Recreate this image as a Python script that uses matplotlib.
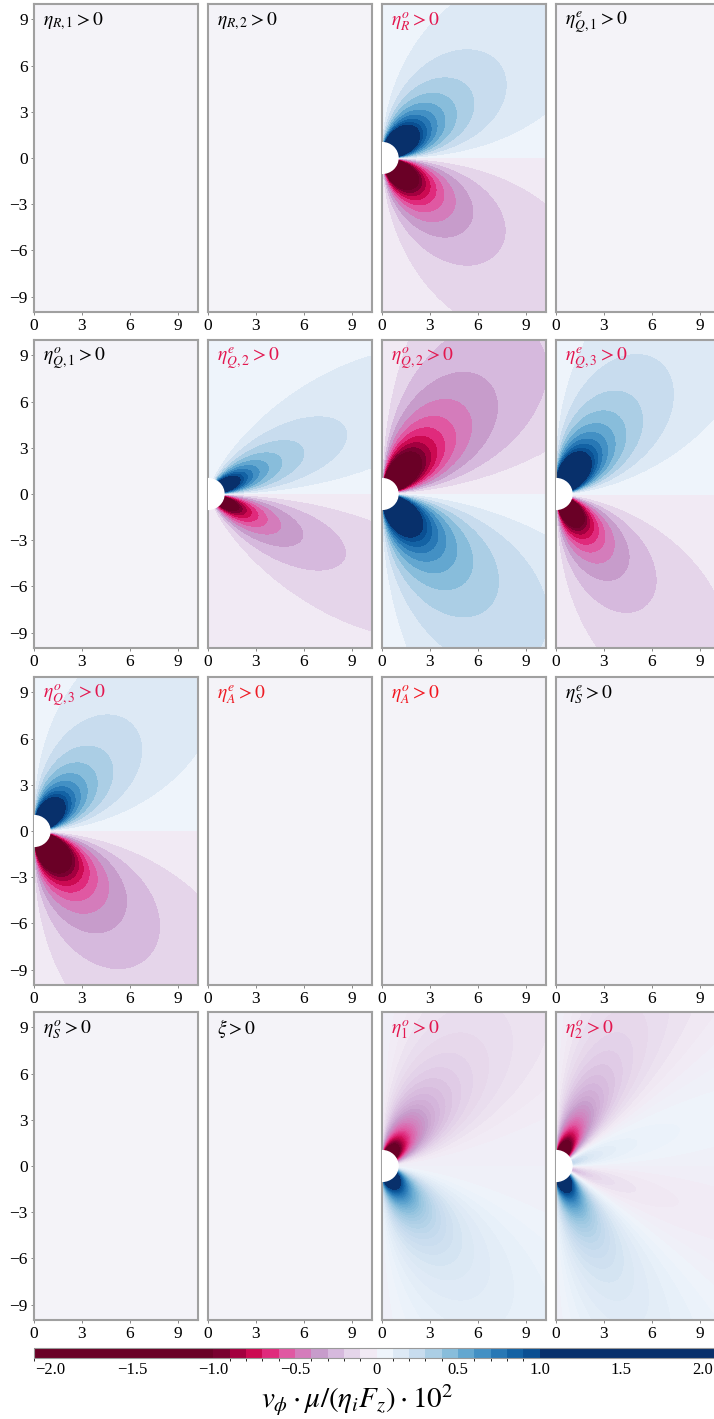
import numpy as np
import matplotlib
matplotlib.use("Agg")
import matplotlib.pyplot as plt
from matplotlib.colors import ListedColormap, BoundaryNorm, LinearSegmentedColormap
from matplotlib.patches import Circle
import matplotlib.colorbar as mcolorbar

plt.rcParams['font.family'] = ['Liberation Serif', 'DejaVu Serif']
plt.rcParams['mathtext.fontset'] = 'stix'
plt.rcParams['axes.unicode_minus'] = True

# panel titles, row by row
panel_labels = [r'$\eta_{R,1} > 0$', r'$\eta_{R,2} > 0$', r'$\eta^o_R > 0$', r'$\eta^e_{Q,1} > 0$',
                r'$\eta^o_{Q,1} > 0$', r'$\eta^e_{Q,2} > 0$', r'$\eta^o_{Q,2} > 0$', r'$\eta^e_{Q,3} > 0$',
                r'$\eta^o_{Q,3} > 0$', r'$\eta^e_A > 0$', r'$\eta^o_A > 0$', r'$\eta^e_S > 0$',
                r'$\eta^o_S > 0$', r'$\xi > 0$', r'$\eta^o_1 > 0$', r'$\eta^o_2 > 0$']
label_colors = ['k', 'k', '#e3174f', 'k',
                'k', '#e3174f', '#e3174f', '#e3174f',
                '#e3174f', '#ee1c25', '#f2161f', 'k',
                'k', 'k', '#e3174f', '#e3174f']

# flow model per panel (None = no flow), sign +1 means blue above the sphere
lobe_sign = [None, None, 1, None, None, 1, -1, 1, 1, None, None, None, None, None, -1, 1]
# main lobe ~ G(angle) / r^n
lobe_amp_up = [0, 0, 4.2, 0, 0, 2.4, 4.2, 4.2, 3.6, 0, 0, 0, 0, 0, 1.6, 1.4]
lobe_amp_down = [0, 0, 4.2, 0, 0, 2.4, 4.2, 3.6, 4.2, 0, 0, 0, 0, 0, 1.6, 1.4]
lobe_sin_exp = [0, 0, 1.0, 0, 0, 1.0, 1.3, 1.8, 1.4, 0, 0, 0, 0, 0, 2.0, 1.0]
lobe_cos_exp = [0, 0, 1.35, 0, 0, 4.0, 1.0, 1.0, 1.0, 0, 0, 0, 0, 0, 1.0, 1.0]
lobe_decay = [0, 0, 1.35, 0, 0, 1.1, 1.15, 1.3, 1.3, 0, 0, 0, 0, 0, 1.1, 1.0]
lobe_flip_deg = [None] * 15 + [33]
# extra part close to the sphere (above / below), faster decay
near_amp_up = [0, 0, 0, 0, 0, 0, 0, 1.5, 0, 0, 0, 0, 0, 0, 0.9, -2.0]
near_amp_down = [0, 0, 0, 0, 0, 0, 0, 0, 2.5, 0, 0, 0, 0, 0, 0.9, -2.0]
near_sin_exp = [0, 0, 1.0, 0, 0, 1.0, 1.5, 1.5, 1.5, 0, 0, 0, 0, 0, 1.5, 2.0]
near_cos_exp = [0, 0, 0.3, 0, 0, 0.3, 0.3, 0.3, 0.3, 0, 0, 0, 0, 0, 0.3, 0.3]
near_decay = [0, 0, 2.0, 0, 0, 2.0, 2.0, 2.0, 2.0, 0, 0, 0, 0, 0, 2.5, 2.5]
fine_levels = [False] * 14 + [True, True]

# colour bands, from -1.0..-0.9 up to 0.9..1.0
band_colors = ['#790030', '#a3003f', '#cc0a52', '#e02a7c', '#e058a2', '#d47cbb', '#c79ccb', '#d6b9dd', '#e5d5ea', '#f1eaf4',
               '#eef4fb', '#dde9f5', '#c8dcee', '#abcee5', '#88bddb', '#63a7d0', '#4390c4', '#2878b5', '#1362a4', '#0a4f92']
under_color = '#6a0026'
over_color = '#08306b'
levels = np.round(np.arange(-1.0, 1.0001, 0.1), 2)
cbar_ticks = [-2.0, -1.5, -1.0, -0.5, 0, 0.5, 1.0, 1.5, 2.0]
cbar_ticklabels = ['\u22122.0', '\u22121.5', '\u22121.0', '\u22120.5', '0', '0.5', '1.0', '1.5', '2.0']

coarse_cmap = ListedColormap(band_colors)
coarse_cmap.set_under(under_color)
coarse_cmap.set_over(over_color)
coarse_norm = BoundaryNorm(levels, len(band_colors))

mids = (levels[:-1] + levels[1:]) / 2
anchors = [(0.0, band_colors[0])] + [((m + 1) / 2, c) for m, c in zip(mids, band_colors)] + [(1.0, band_colors[-1])]
fine_cmap = LinearSegmentedColormap.from_list('smooth', anchors)
fine_cmap.set_under(under_color)
fine_cmap.set_over(over_color)
fine_lv = np.round(np.arange(-1.0, 1.0001, 0.025), 3)

rho = np.linspace(0, 10.5, 420)
zz = np.linspace(-10.3, 10.3, 820)
R, Z = np.meshgrid(rho, zz)
r = np.maximum(np.hypot(R, Z), 1.0)
phi = np.arctan2(np.abs(Z), R)


def angular(p, a, b, flip):
    g = np.sin(p) ** a * np.cos(p) ** b
    if flip is not None:
        g = g * (np.tan(np.radians(flip)) ** 2 * np.cos(p) ** 2 - np.sin(p) ** 2)
    return g


def field(i):
    ps = np.linspace(0, np.pi / 2, 2001)
    gmax = np.max(np.abs(angular(ps, lobe_sin_exp[i], lobe_cos_exp[i], lobe_flip_deg[i])))
    g = angular(phi, lobe_sin_exp[i], lobe_cos_exp[i], lobe_flip_deg[i]) / gmax
    amp = np.where(Z >= 0, lobe_amp_up[i], lobe_amp_down[i])
    main = amp * g / r ** lobe_decay[i]
    na = np.where(Z >= 0, near_amp_up[i], near_amp_down[i])
    near = na * angular(phi, near_sin_exp[i], near_cos_exp[i], None) / r ** near_decay[i]
    v = lobe_sign[i] * np.sign(Z) * (main + near)
    return np.ma.masked_where(np.hypot(R, Z) < 1.0, v)


fig = plt.figure(figsize=(7.14, 14.19), dpi=100)
W, H = 714.0, 1419.0
col_left = [34, 208, 382, 556]
row_top = [4, 340, 677, 1012]
pw, ph = 164, 308

for i in range(16):
    row, col = divmod(i, 4)
    ax = fig.add_axes([col_left[col] / W, 1 - (row_top[row] + ph) / H, pw / W, ph / H])
    ax.set_facecolor('#f4f3f8')
    if lobe_sign[i] is not None:
        v = field(i)
        if fine_levels[i]:
            ax.contourf(R, Z, v, levels=fine_lv, cmap=fine_cmap, extend='both')
        else:
            ax.contourf(R, Z, v, levels=levels, cmap=coarse_cmap, norm=coarse_norm, extend='both')
        ax.add_patch(Circle((0, 0), 1.0, color='white', zorder=3))
    ax.set_xlim(0, 10.25)
    ax.set_ylim(-10, 10)
    ax.set_xticks([0, 3, 6, 9])
    if col == 0:
        ax.set_yticks([-9, -6, -3, 0, 3, 6, 9])
    else:
        ax.set_yticks([])
    ax.tick_params(direction='out', length=2.5, width=0.7, color='#888888', labelsize=12.5, pad=2)
    for s in ax.spines.values():
        s.set_edgecolor('#a0a0a0')
        s.set_linewidth(1.5)
    ax.text(0.055, 0.93, panel_labels[i], transform=ax.transAxes, fontsize=14,
            color=label_colors[i], ha='left', va='baseline', zorder=5)

cax = fig.add_axes([34 / W, 1 - 1358 / H, 685 / W, 10 / H])
cb_bounds = np.concatenate([[-2.1], levels, [2.1]])
cb_cmap = ListedColormap([under_color] + band_colors + [over_color])
cb = mcolorbar.ColorbarBase(cax, cmap=cb_cmap, norm=BoundaryNorm(cb_bounds, len(cb_bounds) - 1),
                            boundaries=cb_bounds, spacing='proportional', orientation='horizontal')
cb.set_ticks(cbar_ticks)
cb.set_ticklabels(cbar_ticklabels)
cax.tick_params(length=0, labelsize=12, pad=3)
cb.outline.set_edgecolor('#999999')
cb.outline.set_linewidth(0.8)

fig.text(0.5, 1 - 1400 / H, r'$v_\phi \cdot \mu/(\eta_i F_z) \cdot 10^2$', fontsize=21,
         ha='center', va='center')

fig.savefig('out.png', dpi=100)
